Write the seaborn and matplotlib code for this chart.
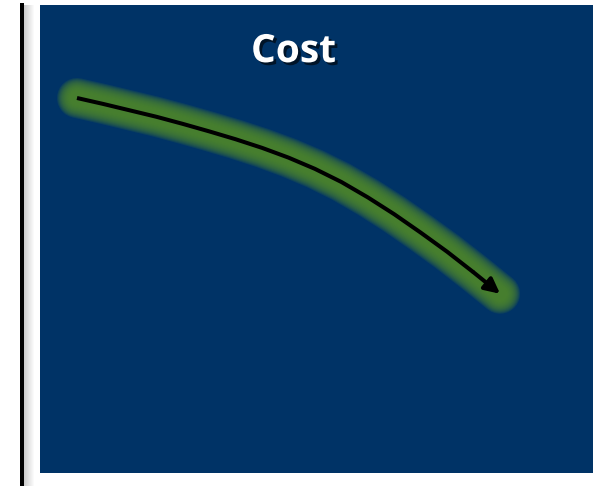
import matplotlib
matplotlib.use("Agg")
import matplotlib.pyplot as plt
import matplotlib.patheffects as pe
from matplotlib.patches import Rectangle
import numpy as np
import pandas as pd
import seaborn as sns

# ---- data ----
title = "Cost"
time = list(range(17))
cost = [100.0, 98.4, 96.7, 95.0, 93.1, 91.1, 89.0, 86.7, 84.1, 81.1,
        77.6, 73.5, 69.0, 64.1, 59.0, 53.5, 47.8]

panel_color = "#003366"
glow_color = "#4f872c"

sns.set_style("white")
plt.rcParams["font.family"] = ["Open Sans", "DejaVu Sans"]

W, H = 593, 486
fig = plt.figure(figsize=(W / 100, H / 100), dpi=100)
fig.patch.set_facecolor("white")

# left black bar with soft shadow
fig.add_artist(Rectangle((20 / W, 0), 4 / W, 483 / H, transform=fig.transFigure,
                         facecolor="black", edgecolor="none"))
for i in range(10):
    g = 0.80 + 0.02 * i
    fig.add_artist(Rectangle(((24 + i) / W, 0), 1 / W, 481 / H, transform=fig.transFigure,
                             facecolor=(g, g, g), edgecolor="none"))

ax = fig.add_axes([40 / W, 13 / H, 553 / W, 468 / H])
ax.set_facecolor(panel_color)
for s in ax.spines.values():
    s.set_visible(False)
ax.set_xticks([])
ax.set_yticks([])

df = pd.DataFrame({"time": time, "cost": cost})

# soft glow
px = 100 / 72
widths = np.linspace(40, 14, 14)
for w in widths:
    sns.lineplot(data=df, x="time", y="cost", ax=ax, color=glow_color, alpha=0.17,
                 linewidth=w / px, solid_capstyle="round", solid_joinstyle="round",
                 estimator=None, sort=False)

# main line with arrowhead
sns.lineplot(data=df.iloc[:-1], x="time", y="cost", ax=ax, color="black",
             linewidth=2.9, solid_capstyle="butt", solid_joinstyle="round",
             estimator=None, sort=False)
ax.annotate("", xy=(time[-1], cost[-1]), xytext=(time[-2], cost[-2]),
            arrowprops=dict(arrowstyle="-|>,head_length=0.9,head_width=0.45",
                            color="black", lw=2.9, shrinkA=0, shrinkB=0))

# map axes to panel
sx = 26.44
ax.set_xlim(-(77 - 40) / sx, (593 - 77) / sx)
ax.set_ylim(0, 468 / 3.75)
ax.set_xlabel("")
ax.set_ylabel("")

ax.text(0.4584, 0.878, title, transform=ax.transAxes, ha="center", va="baseline",
        fontsize=28, fontweight="bold", color="white",
        path_effects=[pe.withSimplePatchShadow(offset=(2, -2), shadow_rgbFace="black", alpha=0.6)])

fig.savefig("out.png", dpi=100)
